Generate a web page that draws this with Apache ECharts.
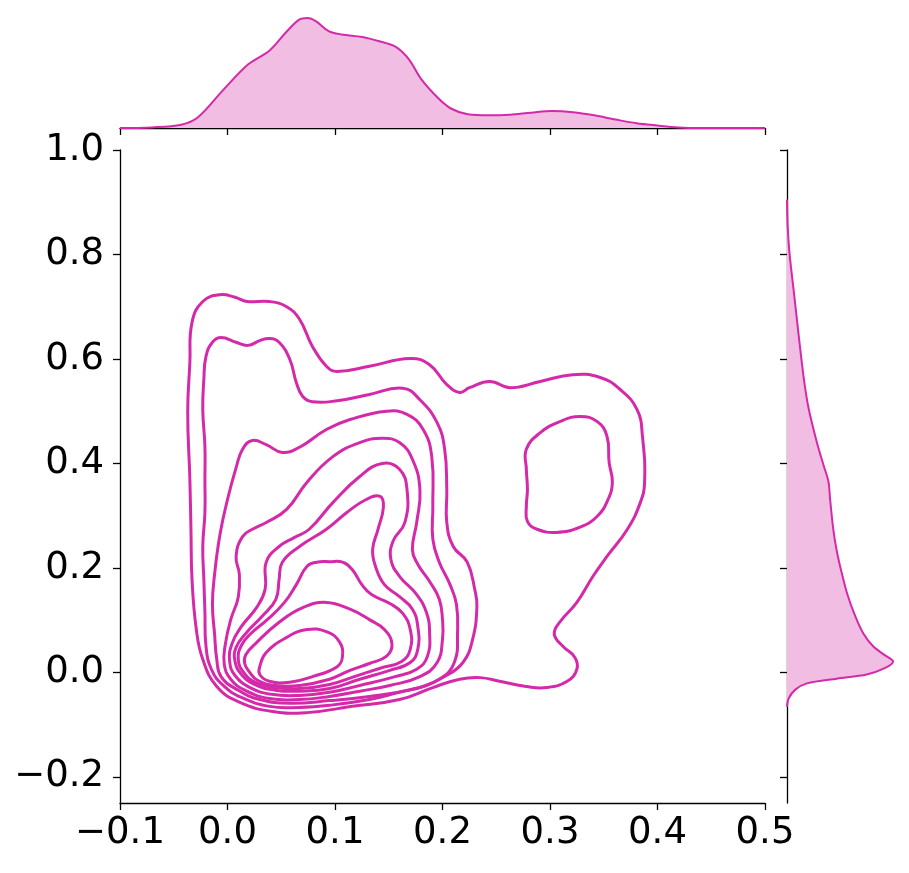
<!DOCTYPE html>
<html><head><meta charset="utf-8">
<script src="https://cdn.jsdelivr.net/npm/echarts@6/dist/echarts.min.js"></script>
<style>html,body{margin:0;padding:0;background:#fff}#c{width:909px;height:873px}</style>
</head><body><div id="c"></div>
<script>
const xTicks = [-0.1, 0.0, 0.1, 0.2, 0.3, 0.4, 0.5];
const yTicks = [-0.2, 0.0, 0.2, 0.4, 0.6, 0.8, 1.0];

// KDE contour lines (x, y), outermost first (closed loops)
const contour1 = [[-0.033,0.670],[-0.023,0.710],[-0.007,0.723],[0.007,0.718],[0.018,0.710],[0.039,0.710],[0.055,0.700],[0.067,0.676],[0.079,0.624],[0.092,0.586],[0.102,0.576],[0.132,0.586],[0.170,0.601],[0.188,0.589],[0.204,0.551],[0.216,0.536],[0.225,0.545],[0.244,0.557],[0.263,0.545],[0.291,0.557],[0.321,0.570],[0.346,0.565],[0.365,0.542],[0.381,0.503],[0.386,0.452],[0.388,0.364],[0.384,0.325],[0.372,0.274],[0.353,0.222],[0.340,0.184],[0.325,0.134],[0.309,0.096],[0.304,0.073],[0.312,0.050],[0.323,0.029],[0.325,0.006],[0.316,-0.017],[0.297,-0.029],[0.278,-0.027],[0.253,-0.017],[0.235,-0.010],[0.216,-0.013],[0.191,-0.029],[0.160,-0.052],[0.116,-0.065],[0.074,-0.077],[0.042,-0.075],[0.011,-0.057],[-0.010,-0.027],[-0.023,0.025],[-0.029,0.082],[-0.033,0.178],[-0.034,0.274],[-0.035,0.369],[-0.037,0.498],[-0.035,0.593]];
const contour2 = [[-0.020,0.605],[-0.014,0.632],[-0.006,0.641],[0.008,0.632],[0.019,0.626],[0.030,0.635],[0.039,0.639],[0.048,0.632],[0.058,0.599],[0.064,0.555],[0.070,0.528],[0.079,0.518],[0.102,0.520],[0.132,0.532],[0.163,0.544],[0.179,0.522],[0.195,0.478],[0.202,0.427],[0.204,0.350],[0.204,0.287],[0.210,0.241],[0.223,0.211],[0.230,0.159],[0.232,0.126],[0.228,0.063],[0.219,0.019],[0.202,-0.008],[0.182,-0.027],[0.160,-0.038],[0.132,-0.052],[0.095,-0.063],[0.067,-0.067],[0.039,-0.065],[0.013,-0.048],[-0.004,-0.025],[-0.015,0.006],[-0.020,0.050],[-0.021,0.115],[-0.022,0.178],[-0.023,0.241],[-0.021,0.306],[-0.021,0.369],[-0.021,0.433],[-0.023,0.503],[-0.022,0.561]];
const island2 = [[0.278,0.427],[0.291,0.459],[0.309,0.480],[0.328,0.490],[0.344,0.480],[0.353,0.452],[0.355,0.402],[0.358,0.364],[0.354,0.331],[0.344,0.299],[0.328,0.278],[0.306,0.268],[0.288,0.274],[0.279,0.289],[0.278,0.318],[0.279,0.350],[0.278,0.389]];
const contour3 = [[0.014,0.427],[0.023,0.444],[0.036,0.436],[0.051,0.421],[0.067,0.431],[0.092,0.465],[0.114,0.484],[0.148,0.500],[0.167,0.494],[0.182,0.465],[0.190,0.413],[0.191,0.318],[0.191,0.255],[0.197,0.211],[0.207,0.168],[0.213,0.130],[0.214,0.077],[0.211,0.019],[0.197,-0.013],[0.170,-0.033],[0.132,-0.046],[0.095,-0.054],[0.058,-0.059],[0.030,-0.052],[0.009,-0.033],[-0.006,-0.008],[-0.010,0.025],[-0.012,0.073],[-0.014,0.130],[-0.012,0.188],[-0.007,0.264],[0.000,0.331],[0.008,0.392]];
const contour4 = [[0.014,0.260],[0.025,0.276],[0.036,0.287],[0.055,0.312],[0.074,0.364],[0.098,0.413],[0.123,0.440],[0.144,0.448],[0.160,0.440],[0.172,0.408],[0.179,0.350],[0.176,0.287],[0.172,0.235],[0.177,0.207],[0.188,0.174],[0.197,0.140],[0.200,0.101],[0.200,0.063],[0.195,0.019],[0.179,-0.008],[0.151,-0.025],[0.123,-0.036],[0.095,-0.046],[0.067,-0.052],[0.039,-0.050],[0.016,-0.034],[0.003,-0.013],[-0.003,0.015],[-0.002,0.054],[0.003,0.101],[0.010,0.144],[0.011,0.188],[0.008,0.222]];
const contour5 = [[0.036,0.211],[0.048,0.241],[0.062,0.258],[0.076,0.274],[0.098,0.325],[0.123,0.375],[0.144,0.400],[0.160,0.389],[0.167,0.350],[0.165,0.287],[0.154,0.251],[0.152,0.216],[0.160,0.184],[0.176,0.149],[0.185,0.115],[0.188,0.077],[0.186,0.031],[0.176,0.006],[0.156,-0.008],[0.123,-0.025],[0.095,-0.038],[0.067,-0.044],[0.041,-0.042],[0.021,-0.029],[0.007,-0.006],[0.002,0.021],[0.004,0.054],[0.013,0.088],[0.027,0.124],[0.035,0.159]];
const contour6 = [[0.051,0.211],[0.067,0.241],[0.092,0.274],[0.111,0.306],[0.129,0.331],[0.142,0.337],[0.145,0.316],[0.140,0.274],[0.135,0.235],[0.138,0.201],[0.146,0.168],[0.160,0.145],[0.172,0.121],[0.177,0.088],[0.177,0.044],[0.170,0.019],[0.151,0.004],[0.123,-0.013],[0.095,-0.031],[0.067,-0.036],[0.044,-0.034],[0.025,-0.023],[0.013,-0.004],[0.007,0.021],[0.008,0.048],[0.018,0.077],[0.032,0.107],[0.045,0.140],[0.048,0.178]];
const contour7 = [[0.074,0.203],[0.083,0.211],[0.095,0.212],[0.107,0.211],[0.116,0.197],[0.125,0.168],[0.134,0.149],[0.151,0.132],[0.163,0.113],[0.170,0.082],[0.170,0.044],[0.162,0.021],[0.142,0.008],[0.118,-0.008],[0.095,-0.023],[0.067,-0.031],[0.044,-0.029],[0.026,-0.019],[0.015,0.000],[0.010,0.025],[0.013,0.052],[0.022,0.075],[0.037,0.101],[0.053,0.134],[0.064,0.168]];
const contour8 = [[0.017,0.034],[0.027,0.057],[0.048,0.096],[0.070,0.124],[0.092,0.134],[0.114,0.121],[0.132,0.101],[0.146,0.082],[0.153,0.054],[0.148,0.031],[0.132,0.017],[0.114,0.004],[0.095,-0.013],[0.067,-0.025],[0.044,-0.025],[0.028,-0.015],[0.020,0.002],[0.016,0.017]];
const contour9 = [[0.030,0.011],[0.036,0.038],[0.055,0.067],[0.074,0.082],[0.092,0.078],[0.104,0.059],[0.107,0.031],[0.102,0.011],[0.079,-0.008],[0.058,-0.019],[0.039,-0.017],[0.030,-0.004]];

// top marginal density of x
const topX = [-0.1,-0.0706,-0.0431,-0.0275,-0.0039,0.0196,0.0392,0.0549,0.0667,0.0745,0.0824,0.0941,0.1059,0.1255,0.1412,0.1569,0.1686,0.1804,0.1961,0.2078,0.2235,0.2431,0.2627,0.2824,0.3020,0.3216,0.3412,0.3608,0.3804,0.4000,0.4196,0.4392,0.5];
const topDensity = [0,0.03,0.16,0.52,1.84,3.08,3.74,4.64,5.22,5.30,5.14,4.67,4.51,4.39,4.18,3.90,3.32,2.34,1.43,0.94,0.66,0.61,0.64,0.74,0.82,0.76,0.61,0.41,0.23,0.12,0.03,0,0];

// right marginal density of y
const rightY = [0.905,0.855,0.801,0.730,0.647,0.564,0.506,0.440,0.398,0.365,0.332,0.274,0.232,0.191,0.149,0.108,0.075,0.050,0.033,0.021,0.008,-0.004,-0.012,-0.021,-0.033,-0.050,-0.066];
const rightDensity = [0,0.02,0.08,0.21,0.36,0.52,0.67,0.93,1.13,1.29,1.34,1.44,1.55,1.70,1.88,2.12,2.37,2.68,3.04,3.30,3.04,2.48,1.55,0.62,0.26,0.05,0];

const LINE = '#d42aa9', FILL = '#f1bde2', AX = '#000';
function fmt(v) {
  if (Math.abs(v) < 1e-9) return '0.0';
  return (v < 0 ? '\u2212' : '') + Math.abs(v).toFixed(1);
}
const axisLine = {show: true, onZero: false, lineStyle: {color: AX, width: 1.3}};
const tick = {show: true, inside: false, length: 7, lineStyle: {color: AX, width: 1.3}};
const label = {fontSize: 37, fontFamily: 'DejaVu Sans', color: '#000'};
const contours = [contour1, contour2, island2, contour3, contour4, contour5, contour6, contour7, contour8, contour9];

function contourSeries(c) {
  return {
    type: 'custom', xAxisIndex: 0, yAxisIndex: 0, coordinateSystem: 'cartesian2d', silent: true,
    data: c,
    renderItem: function (params, api) {
      if (params.dataIndex !== 0) return null;
      const pts = c.map(p => api.coord(p));
      return {type: 'polygon', shape: {points: pts, smooth: 0.45},
              style: {fill: null, stroke: LINE, lineWidth: 3, lineJoin: 'round'}};
    }
  };
}

const chart = echarts.init(document.getElementById('c'), null, {renderer: 'canvas'});
chart.setOption({
  animation: false,
  backgroundColor: '#fff',
  grid: [
    {left: 120, top: 150, width: 645, height: 653, outerBoundsMode: 'none'},
    {left: 120, top: 17, width: 645, height: 111, outerBoundsMode: 'none'},
    {left: 787, top: 150, width: 108, height: 653, outerBoundsMode: 'none'}
  ],
  xAxis: [
    {gridIndex: 0, type: 'value', min: -0.1, max: 0.5, interval: 0.1, axisLine: axisLine, axisTick: tick,
     axisLabel: Object.assign({}, label, {margin: 12, formatter: fmt, customValues: xTicks}), splitLine: {show: false}},
    {gridIndex: 1, type: 'value', min: -0.1, max: 0.5, interval: 0.1, axisLine: axisLine, axisTick: tick,
     axisLabel: {show: false}, splitLine: {show: false}},
    {gridIndex: 2, type: 'value', min: 0, max: 3.36, show: false, splitLine: {show: false}}
  ],
  yAxis: [
    {gridIndex: 0, type: 'value', min: -0.25, max: 1.0, axisLine: axisLine,
     axisTick: Object.assign({}, tick, {customValues: yTicks}),
     axisLabel: Object.assign({}, label, {margin: 16, formatter: fmt, customValues: yTicks}), splitLine: {show: false}},
    {gridIndex: 1, type: 'value', min: 0, max: 5.35, show: false, splitLine: {show: false}},
    {gridIndex: 2, type: 'value', min: -0.25, max: 1.0, axisLine: axisLine,
     axisTick: Object.assign({}, tick, {customValues: yTicks}), axisLabel: {show: false}, splitLine: {show: false}}
  ],
  series: contours.map(contourSeries).concat([
    {type: 'line', xAxisIndex: 1, yAxisIndex: 1, data: topX.map((x, i) => [x, topDensity[i]]),
     smooth: 0.35, symbol: 'none', silent: true, z: 1,
     lineStyle: {color: LINE, width: 2}, areaStyle: {color: FILL, opacity: 1}},
    {type: 'custom', xAxisIndex: 2, yAxisIndex: 2, coordinateSystem: 'cartesian2d', silent: true, z: 1,
     data: rightY.map((y, i) => [rightDensity[i], y]),
     renderItem: function (params, api) {
       if (params.dataIndex !== 0) return null;
       const pts = rightY.map((y, i) => api.coord([rightDensity[i], y]));
       const base = [api.coord([0, rightY[rightY.length - 1]]), api.coord([0, rightY[0]])];
       return {type: 'group', children: [
         {type: 'polygon', shape: {points: pts.concat(base), smooth: 0.3}, style: {fill: FILL}},
         {type: 'polyline', shape: {points: pts, smooth: 0.3}, style: {stroke: LINE, lineWidth: 2, fill: null}}
       ]};
     }}
  ])
});
</script>
</body></html>
